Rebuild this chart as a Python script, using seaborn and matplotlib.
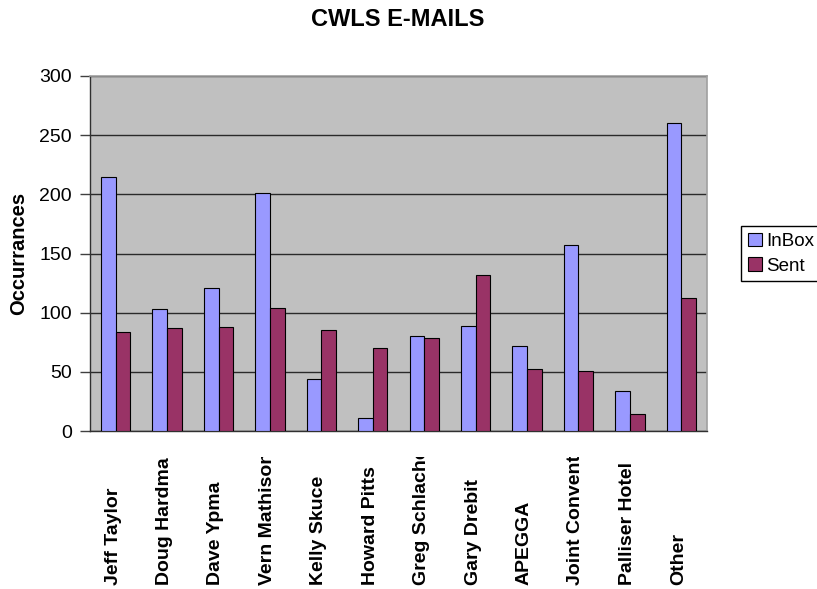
import matplotlib
matplotlib.use("Agg")
import matplotlib.pyplot as plt
import matplotlib.transforms as mtransforms
import seaborn as sns
import pandas as pd

names = ["Jeff Taylor", "Doug Hardman", "Dave Ypma", "Vern Mathison", "Kelly Skuce",
         "Howard Pitts", "Greg Schlacher", "Gary Drebit", "APEGGA", "Joint Convention",
         "Palliser Hotel", "Other"]
inbox = [215, 103, 121, 201, 44, 11, 80, 89, 72, 157, 34, 260]
sent = [84, 87, 88, 104, 85, 70, 79, 132, 52, 51, 14, 112]

df = pd.DataFrame({
    "name": names * 2,
    "count": inbox + sent,
    "box": ["InBox"] * len(names) + ["Sent"] * len(names),
})

plt.rcParams["font.family"] = ["Liberation Sans", "DejaVu Sans"]

fig = plt.figure(figsize=(8.17, 5.89), dpi=100)
ax = fig.add_axes([90 / 817, 1 - 431 / 589, (707 - 90) / 817, (431 - 76) / 589])
ax.set_facecolor("#C0C0C0")

sns.barplot(data=df, x="name", y="count", hue="box", ax=ax,
            palette=["#9999FF", "#993366"], width=0.57, saturation=1,
            edgecolor="black", linewidth=0.8, zorder=3)

ax.set_ylim(0, 300)
ax.set_xlim(-0.5, len(names) - 0.5)
ax.set_yticks(range(0, 301, 50))
ax.yaxis.grid(True, color="#2a2a2a", linewidth=1, zorder=0)
ax.set_axisbelow(True)
ax.tick_params(axis="y", labelsize=14, length=7, width=1, color="#404040",
               direction="out", pad=6)
ax.tick_params(axis="x", length=0, labelbottom=False)
ax.set_xlabel("")
ax.set_ylabel("Occurrances", fontsize=14.5, fontweight="bold", labelpad=8)

for side in ["top", "right"]:
    ax.spines[side].set_color("#a0a0a0")
    ax.spines[side].set_linewidth(1.2)
for side in ["left", "bottom"]:
    ax.spines[side].set_color("#303030")
    ax.spines[side].set_linewidth(1)

fig.suptitle("CWLS E-MAILS", x=398 / 817, y=1 - 8 / 589, fontsize=17, fontweight="bold")

# category labels under the axis, cut off at the top like the original
trans = mtransforms.blended_transform_factory(ax.transData, fig.transFigure)
clip = mtransforms.TransformedBbox(
    mtransforms.Bbox([[0, 0], [1, 1 - 457 / 589]]), fig.transFigure)
for i, n in enumerate(names):
    t = ax.text(i - 0.05, 4 / 589, n, transform=trans, rotation=90, ha="center", va="bottom",
                fontsize=14, fontweight="bold", clip_on=True)
    t.set_clip_box(clip)

handles, labels = ax.get_legend_handles_labels()
ax.get_legend().remove()
fig.legend(handles, labels, loc="upper left", bbox_to_anchor=(741 / 817, 1 - 226 / 589),
           borderaxespad=0, fontsize=13.5, frameon=True, fancybox=False,
           edgecolor="black", framealpha=1, handlelength=0.75, handleheight=0.75,
           handletextpad=0.25, borderpad=0.35, labelspacing=0.4)

fig.savefig("out.png", dpi=100)
